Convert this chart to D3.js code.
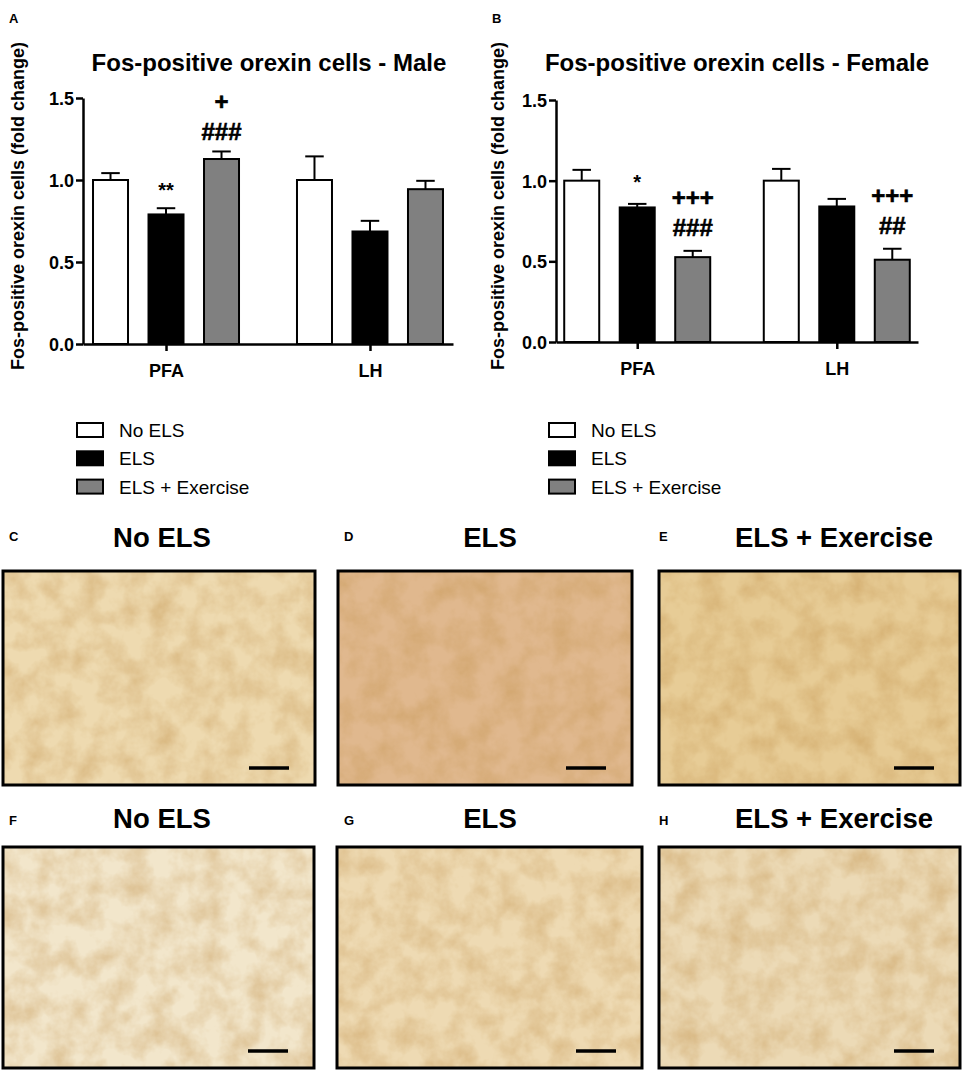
<!DOCTYPE html>
<html>
<head>
<meta charset="utf-8">
<script src="https://cdn.jsdelivr.net/npm/d3@7/dist/d3.min.js"></script>
<style>
  html, body { margin: 0; padding: 0; background: #fff; }
  svg { display: block; }
  text { font-family: "Liberation Sans", Arial, Helvetica, sans-serif; }
</style>
</head>
<body>
<svg id="fig" width="964" height="1074"></svg>
<script>
// ---------------- DATA ----------------
const categories = ["PFA", "LH"];
const groups = ["No ELS", "ELS", "ELS + Exercise"];
const groupColors = ["#ffffff", "#000000", "#808080"];

const maleMeans = [[1.00, 0.79, 1.128], [1.00, 0.686, 0.944]];
const maleSEM   = [[0.042, 0.038, 0.046], [0.144, 0.065, 0.051]];
const femaleMeans = [[1.00, 0.834, 0.526], [1.00, 0.840, 0.510]];
const femaleSEM   = [[0.067, 0.022, 0.039], [0.073, 0.047, 0.068]];

// significance marks per [category][group], listed bottom to top
const maleMarks = [[[], ["**"], ["###", "+"]], [[], [], []]];
const femaleMarks = [[[], ["*"], ["###", "+++"]], [[], [], ["##", "+++"]]];

const yTicks = [0.0, 0.5, 1.0, 1.5];
const yLabel = "Fos-positive orexin cells (fold change)";
const chartTitles = ["Fos-positive orexin cells - Male", "Fos-positive orexin cells - Female"];
const photoTitles = ["No ELS", "ELS", "ELS + Exercise", "No ELS", "ELS", "ELS + Exercise"];
const photoLetters = ["C", "D", "E", "F", "G", "H"];
const photoTones = ["#eedab0", "#e0b88e", "#e7cc96", "#f2e6cb", "#eedab3", "#ecdab6"];

// ---------------- DRAW ----------------
const svg = d3.select("#fig");
const FONT = '"Liberation Sans", Arial, Helvetica, sans-serif';

function barChart(cfg) {
  const g = svg.append("g");
  const x = d3.scalePoint().domain(categories).range([cfg.x0, cfg.x1]).padding(0.407);
  const xg = d3.scaleBand().domain(groups).range([-74, 74]).paddingInner(1 / 3).paddingOuter(0);
  const y = d3.scaleLinear().domain([0, 1.5]).range([cfg.yBottom, cfg.yTop]);

  categories.forEach((c, ci) => {
    groups.forEach((gr, gi) => {
      const m = cfg.means[ci][gi], s = cfg.sem[ci][gi];
      const bx = x(c) + xg(gr);
      const cx = bx + xg.bandwidth() / 2;
      g.append("line")
        .attr("x1", cx).attr("x2", cx)
        .attr("y1", y(m)).attr("y2", y(m + s))
        .attr("stroke", "#000").attr("stroke-width", 2);
      g.append("line")
        .attr("x1", cx - xg.bandwidth() / 4).attr("x2", cx + xg.bandwidth() / 4)
        .attr("y1", y(m + s)).attr("y2", y(m + s))
        .attr("stroke", "#000").attr("stroke-width", 2);
      g.append("rect")
        .attr("x", bx + 1).attr("y", y(m))
        .attr("width", xg.bandwidth() - 2).attr("height", y(0) - y(m))
        .attr("fill", groupColors[gi]).attr("stroke", "#000").attr("stroke-width", 2);
      const marks = cfg.marks[ci][gi];
      marks.forEach((t, k) => {
        const isStar = t.indexOf("*") >= 0;
        g.append("text")
          .attr("x", cx)
          .attr("y", y(m + s) - cfg.markGap - k * 30)
          .attr("text-anchor", "middle")
          .attr("font-weight", "bold")
          .attr("font-size", isStar ? 20 : 24)
          .attr("stroke", isStar ? "none" : "#000")
          .attr("stroke-width", isStar ? 0 : 0.6)
          .text(t);
      });
    });
  });

  const yAxis = d3.axisLeft(y).tickValues(yTicks).tickFormat(d3.format(".1f")).tickSize(7).tickSizeOuter(0).tickPadding(2);
  const ya = g.append("g").attr("transform", `translate(${cfg.x0},0)`).call(yAxis);
  const xAxis = d3.axisBottom(x).tickSize(7).tickSizeOuter(0).tickPadding(13);
  const xa = g.append("g").attr("transform", `translate(0,${cfg.yBottom})`).call(xAxis);
  [ya, xa].forEach(a => {
    a.select(".domain").attr("stroke", "#000").attr("stroke-width", 2.5);
    a.selectAll(".tick line").attr("stroke", "#000").attr("stroke-width", 2.5);
    a.selectAll(".tick text").attr("fill", "#000").attr("font-family", FONT)
      .attr("font-weight", "bold").attr("font-size", 18);
  });
  ya.selectAll(".tick text").attr("dy", "0.36em");

  g.append("text").attr("x", cfg.titleX).attr("y", 71).attr("text-anchor", "middle")
    .attr("font-weight", "bold").attr("font-size", 24).text(cfg.title);
  g.append("text")
    .attr("transform", `translate(${cfg.ylabX},206) rotate(-90)`)
    .attr("text-anchor", "middle").attr("dy", "0.35em")
    .attr("font-weight", "bold").attr("font-size", 18).text(yLabel);
  g.append("text").attr("x", cfg.letterX).attr("y", 23)
    .attr("font-weight", "bold").attr("font-size", 13).text(cfg.letter);

  groups.forEach((gr, gi) => {
    const ly = 423 + gi * 28.3;
    g.append("rect").attr("x", cfg.legX).attr("y", ly).attr("width", 26).attr("height", 14)
      .attr("fill", groupColors[gi]).attr("stroke", "#000").attr("stroke-width", 2);
    g.append("text").attr("x", cfg.legX + 42).attr("y", ly + 14)
      .attr("font-size", 19).text(gr);
  });
}

barChart({ x0: 83, x1: 453, yBottom: 344, yTop: 98, means: maleMeans, sem: maleSEM,
  marks: maleMarks, markGap: 11, title: chartTitles[0], titleX: 269, ylabX: 18,
  letterX: 9, letter: "A", legX: 77 });
barChart({ x0: 556, x1: 918, yBottom: 342, yTop: 100, means: femaleMeans, sem: femaleSEM,
  marks: femaleMarks, markGap: 15, title: chartTitles[1], titleX: 737, ylabX: 498,
  letterX: 492, letter: "B", legX: 549 });

// ---------------- photo panels ----------------
const defs = svg.append("defs");
const filt = defs.append("filter").attr("id", "grain").attr("x", 0).attr("y", 0).attr("width", 1).attr("height", 1);
filt.append("feTurbulence").attr("type", "fractalNoise").attr("baseFrequency", 0.04).attr("numOctaves", 4).attr("seed", 4).attr("result", "n");
filt.append("feColorMatrix").attr("in", "n").attr("type", "matrix")
  .attr("values", "0 0 0 0 0.55  0 0 0 0 0.3  0 0 0 0 0.08  0 0 0 -1.6 1.05");

const photoBoxes = [
  [3, 571, 312, 214], [338, 571, 294, 214], [659, 571, 301, 214],
  [3, 847, 311, 221], [337, 847, 305, 221], [659, 847, 301, 221]
];
const titleCenters = [162, 490, 834, 162, 490, 834];
const letterX = [9, 344, 659, 9, 344, 659];

photoBoxes.forEach((b, i) => {
  const row = i < 3 ? 0 : 1;
  const g = svg.append("g");
  g.append("rect").attr("x", b[0]).attr("y", b[1]).attr("width", b[2]).attr("height", b[3])
    .attr("fill", photoTones[i]);
  g.append("rect").attr("x", b[0]).attr("y", b[1]).attr("width", b[2]).attr("height", b[3])
    .attr("fill", "#000").attr("filter", "url(#grain)").attr("opacity", 0.5);
  g.append("rect").attr("x", b[0]).attr("y", b[1]).attr("width", b[2]).attr("height", b[3])
    .attr("fill", "none").attr("stroke", "#000").attr("stroke-width", 3);
  const bx2 = b[0] + b[2] - 26;
  const by = b[1] + b[3] - 17;
  g.append("line").attr("x1", bx2 - 40).attr("x2", bx2).attr("y1", by).attr("y2", by)
    .attr("stroke", "#000").attr("stroke-width", 3.5);
  g.append("text").attr("x", titleCenters[i]).attr("y", row === 0 ? 547 : 828)
    .attr("text-anchor", "middle").attr("font-weight", "bold").attr("font-size", 27.5)
    .text(photoTitles[i]);
  g.append("text").attr("x", letterX[i]).attr("y", row === 0 ? 541 : 825)
    .attr("font-weight", "bold").attr("font-size", 13).text(photoLetters[i]);
});
</script>
</body>
</html>
